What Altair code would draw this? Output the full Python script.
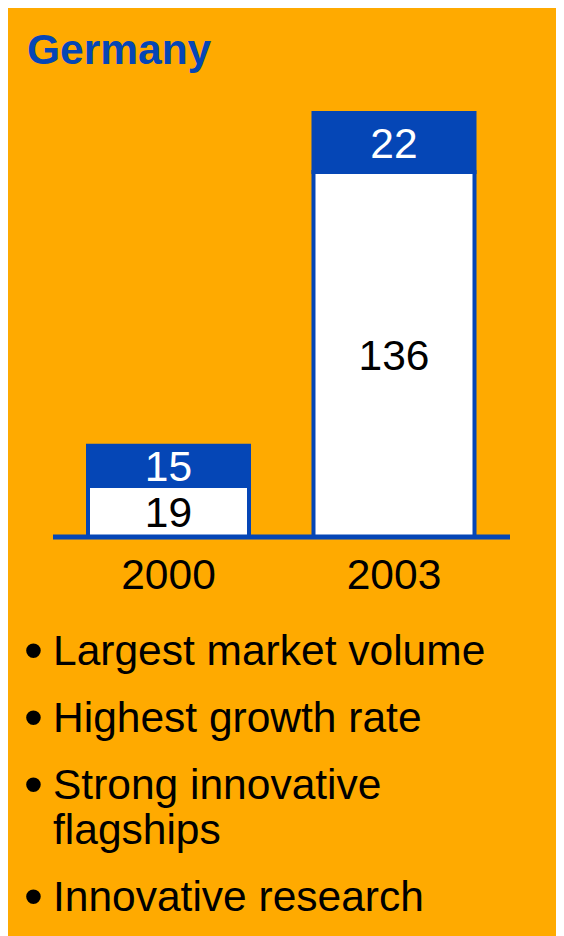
import altair as alt
import pandas as pd

# ---- data ----
years = ["2000", "2003"]
base_values = [19, 136]   # white segment
top_values = [15, 22]     # blue segment
title_text = "Germany"
bullets = ["Largest market volume", "Highest growth rate", "Strong innovative", "Innovative research"]
continuation = {2: "flagships"}

ORANGE = "#FFAA00"
BLUE = "#0546B6"
FONT = "Liberation Sans"
FS = 42.5

rows = []
for y, b, t in zip(years, base_values, top_values):
    rows.append({"year": y, "seg": "base", "ord": 0, "value": b})
    rows.append({"year": y, "seg": "top", "ord": 1, "value": t})
df = pd.DataFrame(rows)

xscale = alt.Scale(domain=years, range=[80, 466.5], paddingInner=0.286, paddingOuter=0)
yscale = alt.Scale(domain=[0, 158], range=[529, 105], nice=False, zero=True)

stacked = alt.Chart(df).transform_stack(
    stack="value", groupby=["year"], as_=["v0", "v1"],
    sort=[alt.SortField("ord", order="ascending")]
).transform_calculate(mid="(datum.v0 + datum.v1) / 2")

bars = stacked.mark_bar(stroke=BLUE, strokeWidth=4).encode(
    x=alt.X("year:N", scale=xscale, axis=None),
    y=alt.Y("v0:Q", scale=yscale, axis=None),
    y2="v1:Q",
    fill=alt.Fill("seg:N", scale=alt.Scale(domain=["base", "top"], range=["#FFFFFF", BLUE]), legend=None),
)

labels = stacked.mark_text(font=FONT, fontSize=FS, baseline="middle", align="center", dy=2).encode(
    x=alt.X("year:N", scale=xscale, axis=None),
    y=alt.Y("mid:Q", scale=yscale, axis=None),
    text=alt.Text("value:Q"),
    color=alt.Color("seg:N", scale=alt.Scale(domain=["base", "top"], range=["#000000", "#FFFFFF"]), legend=None),
)

baseline = alt.Chart(pd.DataFrame({"y": [0]})).mark_rule(color=BLUE, strokeWidth=5).encode(
    y=alt.Y("y:Q", scale=yscale, axis=None),
    x=alt.value(45), x2=alt.value(502),
)

year_labels = alt.Chart(pd.DataFrame({"year": years})).mark_text(
    font=FONT, fontSize=FS, baseline="middle", align="center", color="black"
).encode(
    x=alt.X("year:N", scale=xscale, axis=None),
    y=alt.value(568),
    text="year:N",
)

title = alt.Chart(pd.DataFrame({"t": [title_text]})).mark_text(
    font=FONT, fontSize=42.5, fontWeight="bold", color=BLUE, align="left", baseline="alphabetic"
).encode(x=alt.value(19), y=alt.value(56), text="t:N")

layers = [bars, labels, baseline, year_labels, title]

y = 657
for i, b in enumerate(bullets):
    layers.append(alt.Chart(pd.DataFrame({"t": ["\u2022"]})).mark_text(
        font=FONT, fontSize=54, color="black", align="left", baseline="alphabetic", dy=4
    ).encode(x=alt.value(16), y=alt.value(y), text="t:N"))
    layers.append(alt.Chart(pd.DataFrame({"t": [b]})).mark_text(
        font=FONT, fontSize=FS, color="black", align="left", baseline="alphabetic"
    ).encode(x=alt.value(45), y=alt.value(y), text="t:N"))
    if i in continuation:
        y += 45
        layers.append(alt.Chart(pd.DataFrame({"t": [continuation[i]]})).mark_text(
            font=FONT, fontSize=FS, color="black", align="left", baseline="alphabetic"
        ).encode(x=alt.value(45), y=alt.value(y), text="t:N"))
    y += 67

chart = alt.layer(*layers).properties(
    width=548, height=928, background=ORANGE, padding=0,
    autosize=alt.AutoSizeParams(type="fit", contains="padding"),
).configure_view(strokeWidth=0)

chart.save("out.html", embed_options={"renderer": "svg", "actions": False})
